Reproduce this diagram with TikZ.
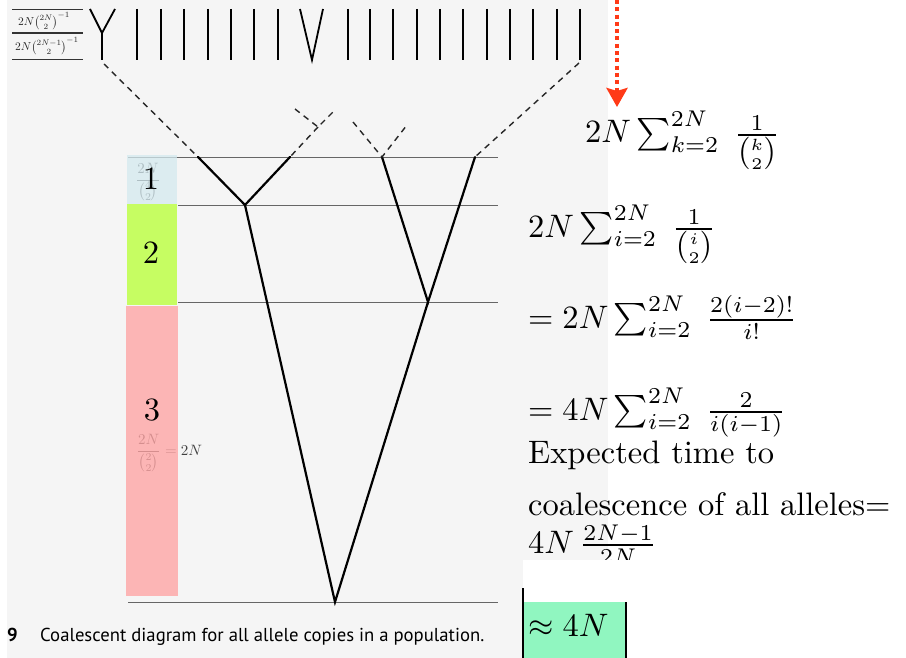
\RequirePackage{fix-cm}
\documentclass[tikz,border=0pt]{standalone}
\usepackage{amsmath}
\usepackage{graphicx}
\usepackage{fontspec}
\newfontfamily\capfont{PT Sans}
\usetikzlibrary{arrows.meta}
\newcommand{\BigTxt}[1]{\scalebox{3.25}{#1}}
\newcommand{\MidTxt}[1]{\scalebox{1.5}{#1}}
\newcommand{\TabTxt}[1]{\scalebox{1.15}{#1}}
\definecolor{scan}{RGB}{245,245,245}
\definecolor{boxblue}{RGB}{212,233,239}
\definecolor{boxgreen}{RGB}{198,253,98}
\definecolor{boxred}{RGB}{255,164,164}
\definecolor{mint}{RGB}{144,246,192}
\definecolor{arrred}{RGB}{255,58,23}
\tikzset{
  leaf/.style={line width=1.8pt},
  branch/.style={line width=2.2pt, line cap=round},
  ghost/.style={line width=1.4pt, dash pattern=on 6pt off 5pt, draw=black!85},
  gen/.style={line width=0.9pt, draw=black!60},
  tab/.style={line width=1.1pt, draw=black!80},
  big/.style={font=\fontsize{10}{12}\selectfont, inner sep=0pt, anchor=base west},
  lab/.style={font=\fontsize{10}{12}\selectfont, inner sep=0pt},
  small/.style={font=\fontsize{10}{12}\selectfont, inner sep=0pt, text=black!85},
  faded/.style={font=\fontsize{10}{12}\selectfont, inner sep=0pt},
  redarrow/.style={draw=arrred, line width=4pt, dash pattern=on 4pt off 3.3pt,
     -{Stealth[length=19pt,width=21pt,inset=3pt,fill=arrred]}},
}
\begin{document}
\begin{tikzpicture}[x=1pt,y=-1pt]
\useasboundingbox (0,0) rectangle (906,658);
\fill[white] (0,0) rectangle (906,658);
\fill[scan] (7,0) rectangle (608,658);
% table top left
\draw[tab] (12,9.5) -- (83,9.5);
\draw[tab] (12,33) -- (83,33);
\draw[tab] (12,59.5) -- (83,59.5);
\node[small] (t1) at (44,21) {\TabTxt{$2N{\binom{2N}{2}}^{-1}$}};
\node[small] (t2) at (47,46) {\TabTxt{$2N{\binom{2N-1}{2}}^{-1}$}};
% top generation of allele copies
\coordinate (ya) at (90,9);
\coordinate (yb) at (115,9);
\coordinate (yj) at (102,33);
\coordinate (ys) at (102,60);
\draw[leaf] (ya) -- (yj) -- (yb);
\draw[leaf] (yj) -- (ys);
\coordinate (va) at (300,9);
\coordinate (vb) at (323,9);
\coordinate (vj) at (312,60);
\draw[leaf] (va) -- (vj) -- (vb);
\foreach \x in {137,161,184,208,231,254,278,348,370,393,417,440,463,487,510,533,557,580}
  \draw[leaf] (\x,9) -- (\x,60);
% generation lines
\draw[gen] (128,157) -- (498,157);
\draw[gen] (178,205) -- (498,205);
\draw[gen] (178,302) -- (498,302);
\draw[gen] (128,602) -- (498,602);
% coloured boxes with faded labels
\node[faded, text=black!75] (fb) at (148,182) {\MidTxt{$\displaystyle\frac{2N}{\binom{4}{2}}$}};
\fill[boxblue, fill opacity=0.75] (127,155) rectangle (177,204);
\fill[boxgreen] (127,204) rectangle (177,305);
\node[faded, text=black!75, anchor=base west] (fr) at (136,455) {\MidTxt{$\displaystyle\frac{2N}{\binom{2}{2}} = 2N$}};
\fill[boxred, fill opacity=0.78] (126,306) rectangle (178,596);
\node[lab] (n1) at (151,179) {\BigTxt{1}};
\node[lab] (n2) at (151,253) {\BigTxt{2}};
\node[lab] (n3) at (152,410) {\BigTxt{3}};
% tree
\coordinate (a1) at (198,157);
\coordinate (a2) at (290,157);
\coordinate (j1) at (245,205);
\coordinate (b1) at (382,157);
\coordinate (b2) at (475,157);
\coordinate (j2) at (428,302);
\coordinate (r) at (335,602);
\draw[branch] (a1) -- (j1) -- (a2);
\draw[branch] (b1) -- (j2) -- (b2);
\draw[branch] (j1) -- (r) -- (j2);
% dashed lineages
\coordinate (ystart) at (104,64);
\coordinate (rstart) at (579,63);
\coordinate (sy1) at (295,109);
\coordinate (sy2) at (333,112);
\coordinate (syj) at (318,127);
\coordinate (sv1) at (353,122);
\coordinate (sv2) at (407,125);
\draw[ghost] (ystart) -- (a1);
\draw[ghost] (rstart) -- (b2);
\draw[ghost] (sy1) -- (syj) -- (sy2);
\draw[ghost] (syj) -- (a2);
\draw[ghost] (sv1) -- (b1) -- (sv2);
% red dotted arrow
\coordinate (arrtop) at (617,0);
\coordinate (arrtip) at (617,107);
\draw[redarrow] (arrtop) -- (arrtip);
% formulas
\node[big] (f1) at (585,143) {\BigTxt{$2N\sum_{k=2}^{2N}\;\frac{1}{\binom{k}{2}}$}};
\node[big] (f2) at (528,237) {\BigTxt{$2N\sum_{i=2}^{2N}\;\frac{1}{\binom{i}{2}}$}};
\node[big] (f3) at (528,328) {\BigTxt{$=2N\sum_{i=2}^{2N}\;\frac{2(i-2)!}{i!}$}};
\node[big] (f4) at (528,420) {\BigTxt{$=4N\sum_{i=2}^{2N}\;\frac{2}{i(i-1)}$}};
\node[big] (f5) at (528,463) {\BigTxt{Expected time to}};
\node[big] (f6) at (528,515) {\BigTxt{coalescence of all alleles$=$}};
\node[big] (f7) at (528,553) {\BigTxt{$4N\,\frac{2N-1}{2N}$}};
\fill[white] (523,560) rectangle (906,658);
% result box
\fill[mint] (523,602) rectangle (626,658);
\coordinate (gl1) at (523,588);
\coordinate (gl2) at (523,658);
\coordinate (gr1) at (626,602);
\coordinate (gr2) at (626,658);
\draw[line width=2pt] (gl1) -- (gl2);
\draw[line width=2pt] (gr1) -- (gr2);
\node[big] (res) at (528,636) {\BigTxt{$\approx 4N$}};
% caption
\node[inner sep=0pt, anchor=base west, font=\capfont\bfseries\fontsize{18.7}{22}\selectfont] (c9) at (7,641) {9};
\node[inner sep=0pt, anchor=base west, font=\capfont\fontsize{18.7}{22}\selectfont] (cap) at (40,641) {Coalescent diagram for all allele copies in a population.};
\end{tikzpicture}
\end{document}
